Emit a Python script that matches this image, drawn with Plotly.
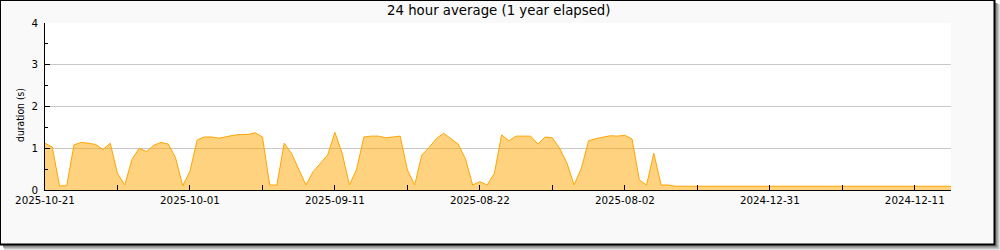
import plotly.graph_objects as go

# ---- data ----
day_index = list(range(126))
duration_s = [
    1.12, 1.03, 0.10, 0.10, 1.08, 1.14, 1.12, 1.09, 0.97, 1.12,
    0.40, 0.12, 0.73, 1.00, 0.92, 1.07, 1.14, 1.10, 0.78, 0.10,
    0.45, 1.20, 1.27, 1.27, 1.24, 1.28, 1.31, 1.33, 1.33, 1.37,
    1.27, 0.12, 0.12, 1.12, 0.88, 0.50, 0.12, 0.44, 0.65, 0.84,
    1.38, 0.88, 0.12, 0.50, 1.27, 1.29, 1.29, 1.25, 1.27, 1.29,
    0.48, 0.12, 0.84, 1.02, 1.23, 1.36, 1.23, 1.10, 0.75, 0.12,
    0.20, 0.12, 0.40, 1.32, 1.18, 1.29, 1.29, 1.29, 1.10, 1.27,
    1.25, 1.00, 0.65, 0.12, 0.52, 1.18, 1.23, 1.26, 1.30, 1.29,
    1.31, 1.22, 0.24, 0.12, 0.88, 0.12, 0.12, 0.09, 0.09, 0.09,
    0.09, 0.09, 0.09, 0.09, 0.09, 0.09, 0.09, 0.09, 0.09, 0.09,
    0.09, 0.09, 0.09, 0.09, 0.09, 0.09, 0.09, 0.09, 0.09, 0.09,
    0.09, 0.09, 0.09, 0.09, 0.09, 0.09, 0.09, 0.09, 0.09, 0.09,
    0.09, 0.09, 0.09, 0.09, 0.09, 0.09,
]
x_tick_vals = [0, 20, 40, 60, 80, 100, 120]
x_tick_text = ["2025-10-21", "2025-10-01", "2025-09-11", "2025-08-22",
               "2025-08-02", "2024-12-31", "2024-12-11"]
x_minor_vals = [10, 30, 50, 70, 90, 110]
y_tick_vals = [0, 1, 2, 3, 4]
title_text = "24 hour average (1 year elapsed)"
y_title = "duration (s)"

W, H = 1000, 250
L, R, T, B = 45, 49, 23, 60
PW, PH = W - L - R, H - T - B
FONT = "DejaVu Sans"


def px(x):
    return (x - L) / PW


def py(y):
    return (H - B - y) / PH


fig = go.Figure()
fig.add_trace(go.Scatter(
    x=day_index, y=duration_s, mode="lines",
    line=dict(color="rgb(255,165,0)", width=1),
    fill="tozeroy", fillcolor="rgba(255,165,0,0.5)",
    hoverinfo="skip", showlegend=False,
))

shapes = [
    # shadow
    dict(type="rect", xref="paper", yref="paper", layer="below",
         x0=px(4), x1=px(999.5), y0=py(4), y1=py(249.5),
         fillcolor="#c4c4c4", line=dict(width=0)),
    dict(type="rect", xref="paper", yref="paper", layer="below",
         x0=px(3), x1=px(997.5), y0=py(3), y1=py(247.5),
         fillcolor="#8c8c8c", line=dict(width=0)),
    # frame
    dict(type="rect", xref="paper", yref="paper", layer="below",
         x0=px(0), x1=px(995.5), y0=py(0), y1=py(245.5),
         fillcolor="#000000", line=dict(width=0)),
    dict(type="rect", xref="paper", yref="paper", layer="below",
         x0=px(1), x1=px(993.5), y0=py(1), y1=py(243.5),
         fillcolor="#f9f9f9", line=dict(width=0)),
    # canvas
    dict(type="rect", xref="paper", yref="paper", layer="below",
         x0=0, x1=1, y0=0, y1=1,
         fillcolor="#ffffff", line=dict(width=0)),
]

annotations = [
    dict(text=title_text, xref="paper", yref="paper", x=px(498.5), y=py(10.5),
         xanchor="center", yanchor="middle", showarrow=False,
         font=dict(family=FONT, size=13.3, color="#000000")),
    dict(text=y_title, xref="paper", yref="paper", x=px(20), y=py(115),
         xanchor="center", yanchor="middle", showarrow=False, textangle=-90,
         font=dict(family="DejaVu Sans Condensed, DejaVu Sans", size=10.3,
                   color="#000000")),
]

fig.update_layout(
    width=W, height=H,
    margin=dict(l=L, r=R, t=T, b=B, pad=0),
    paper_bgcolor="#ffffff",
    plot_bgcolor="rgba(0,0,0,0)",
    font=dict(family=FONT, size=10.3, color="#000000"),
    shapes=shapes,
    annotations=annotations,
    showlegend=False,
    xaxis=dict(
        range=[0, 125], tickmode="array", tickvals=x_tick_vals, ticktext=x_tick_text,
        ticks="inside", ticklen=5, tickwidth=1, tickcolor="#000000",
        showgrid=False, zeroline=False,
        showline=True, linecolor="#000000", linewidth=1,
        tickfont=dict(family=FONT, size=10.3, color="#000000"),
        ticklabelstandoff=1,
        minor=dict(tickmode="array", tickvals=x_minor_vals, ticks="inside",
                   ticklen=5, tickcolor="#000000", showgrid=False),
        fixedrange=True,
    ),
    yaxis=dict(
        range=[0, 4], tickmode="array", tickvals=y_tick_vals,
        ticks="inside", ticklen=5, tickwidth=1, tickcolor="#000000",
        showgrid=True, gridcolor="#c8c8c8", gridwidth=1, zeroline=False,
        showline=True, linecolor="#000000", linewidth=1,
        tickfont=dict(family=FONT, size=10.3, color="#000000"),
        ticklabelstandoff=4,
        minor=dict(dtick=0.5, tick0=0, ticks="inside", ticklen=3,
                   tickcolor="#000000", showgrid=False),
        fixedrange=True,
    ),
)

fig.write_html("out.html", config=dict(displayModeBar=False))
